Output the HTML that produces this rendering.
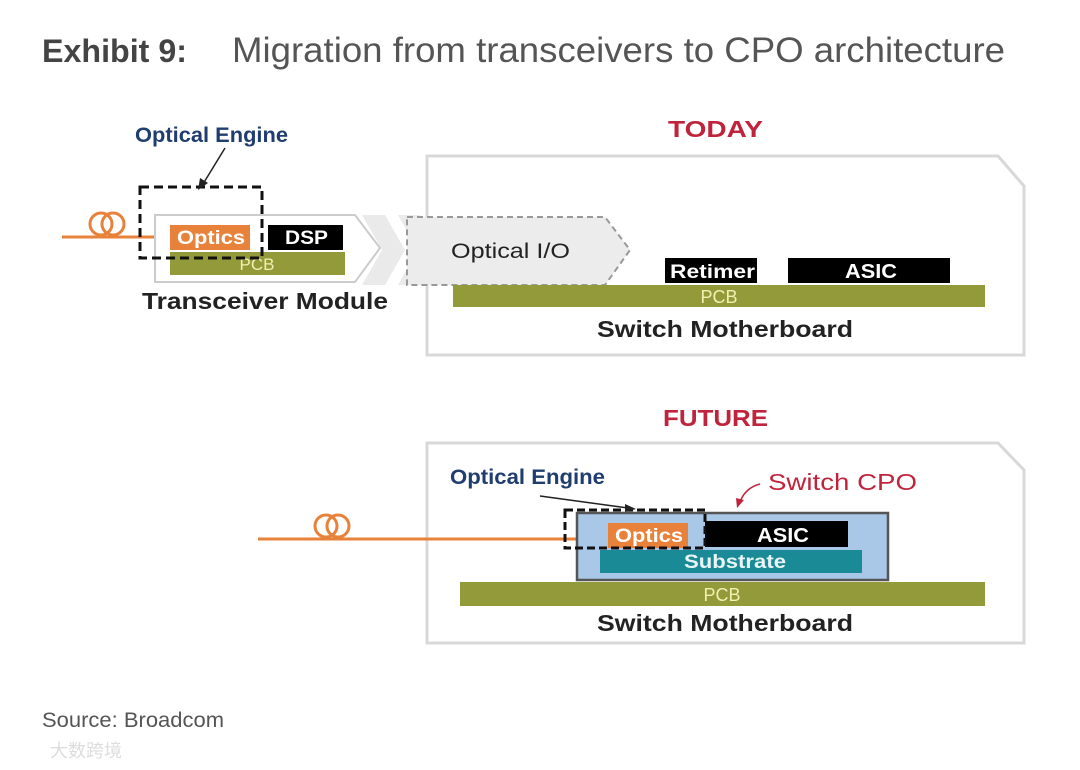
<!DOCTYPE html>
<html><head><meta charset="utf-8"><style>
html,body{margin:0;padding:0;background:#fff;}
svg{display:block;}
</style></head><body>
<svg width="1080" height="770" viewBox="0 0 1080 770" xmlns="http://www.w3.org/2000/svg" font-family="'Liberation Sans', sans-serif">
<text x="42" y="62" font-size="32" font-weight="bold" fill="#444" textLength="145" lengthAdjust="spacingAndGlyphs">Exhibit 9:</text>
<text x="232" y="62" font-size="35" fill="#555" textLength="773" lengthAdjust="spacingAndGlyphs">Migration from transceivers to CPO architecture</text>

<!-- TODAY -->
<text x="668" y="137" font-size="23" font-weight="bold" fill="#c0243c" textLength="95" lengthAdjust="spacingAndGlyphs">TODAY</text>
<polygon points="427,156 998,156 1024,186 1024,355 427,355" fill="#fff" stroke="#d8d8d8" stroke-width="3"/>
<polygon points="362,215 385,215 405,250 385,285 362,285 382,250" fill="#eaeaea"/>
<polygon points="398,215 420,215 440,250 420,285 398,285 418,250" fill="#eaeaea"/>
<polygon points="407,217 605,217 630,250 605,285 407,285" fill="#ececec" stroke="#999" stroke-width="2" stroke-dasharray="6,4"/>
<text x="451" y="258" font-size="21" fill="#222" textLength="119" lengthAdjust="spacingAndGlyphs">Optical I/O</text>
<rect x="665" y="258" width="92" height="25" fill="#000"/>
<text x="670" y="278" font-size="19" fill="#fff" font-weight="bold" textLength="85" lengthAdjust="spacingAndGlyphs">Retimer</text>
<rect x="788" y="258" width="162" height="25" fill="#000"/>
<text x="845" y="278" font-size="20" fill="#fff" font-weight="bold" textLength="52" lengthAdjust="spacingAndGlyphs">ASIC</text>
<rect x="453" y="285" width="532" height="22" fill="#939a3a"/>
<text x="719" y="303" font-size="18" fill="#f2efb0" text-anchor="middle">PCB</text>
<text x="597" y="337" font-size="23" font-weight="bold" fill="#222" textLength="256" lengthAdjust="spacingAndGlyphs">Switch Motherboard</text>

<!-- transceiver -->
<line x1="62" y1="237" x2="172" y2="237" stroke="#e8823a" stroke-width="3"/>
<circle cx="101" cy="224" r="11" fill="none" stroke="#e8823a" stroke-width="3"/>
<circle cx="113" cy="224" r="11" fill="none" stroke="#e8823a" stroke-width="3"/>
<polygon points="155,215 355,215 380,248 355,282 155,282" fill="#fff" stroke="#ccc" stroke-width="2"/>
<rect x="170" y="225" width="80" height="25" fill="#e8823a"/>
<text x="177" y="244" font-size="19" fill="#fff" font-weight="bold" textLength="68" lengthAdjust="spacingAndGlyphs">Optics</text>
<rect x="268" y="225" width="75" height="25" fill="#000"/>
<text x="285" y="244" font-size="19" fill="#fff" font-weight="bold" textLength="43" lengthAdjust="spacingAndGlyphs">DSP</text>
<rect x="170" y="252" width="175" height="23" fill="#939a3a"/>
<text x="257" y="270" font-size="17" fill="#f2efb0" text-anchor="middle">PCB</text>
<rect x="140" y="187" width="122" height="71" fill="none" stroke="#111" stroke-width="3" stroke-dasharray="9,5"/>
<text x="135" y="142" font-size="21" font-weight="bold" fill="#1f3d6e" textLength="153" lengthAdjust="spacingAndGlyphs">Optical Engine</text>
<line x1="225" y1="148" x2="203" y2="184" stroke="#222" stroke-width="1.5"/>
<polygon points="198,190 200,178 208,183" fill="#222"/>
<text x="142" y="309" font-size="23" font-weight="bold" fill="#222" textLength="246" lengthAdjust="spacingAndGlyphs">Transceiver Module</text>

<!-- FUTURE -->
<text x="663" y="426" font-size="23" font-weight="bold" fill="#c0243c" textLength="105" lengthAdjust="spacingAndGlyphs">FUTURE</text>
<polygon points="427,443 998,443 1024,470 1024,643 427,643" fill="#fff" stroke="#d8d8d8" stroke-width="3"/>
<line x1="258" y1="539" x2="610" y2="539" stroke="#e8823a" stroke-width="3"/>
<circle cx="326" cy="526" r="11" fill="none" stroke="#e8823a" stroke-width="3"/>
<circle cx="338" cy="526" r="11" fill="none" stroke="#e8823a" stroke-width="3"/>
<rect x="577" y="513" width="311" height="67" fill="#a9c7e6" stroke="#555" stroke-width="2.5"/>
<rect x="705" y="521" width="143" height="26" fill="#000"/>
<text x="757" y="542" font-size="20" fill="#fff" font-weight="bold" textLength="52" lengthAdjust="spacingAndGlyphs">ASIC</text>
<rect x="608" y="523" width="80" height="25" fill="#e8823a"/>
<text x="615" y="542" font-size="19" fill="#fff" font-weight="bold" textLength="68" lengthAdjust="spacingAndGlyphs">Optics</text>
<rect x="600" y="550" width="262" height="23" fill="#1a8a96"/>
<text x="684" y="568" font-size="19" fill="#e8f4f6" font-weight="bold" textLength="102" lengthAdjust="spacingAndGlyphs">Substrate</text>
<rect x="460" y="582" width="525" height="24" fill="#939a3a"/>
<text x="722" y="601" font-size="18" fill="#f2efb0" text-anchor="middle">PCB</text>
<text x="597" y="631" font-size="23" font-weight="bold" fill="#222" textLength="256" lengthAdjust="spacingAndGlyphs">Switch Motherboard</text>
<rect x="565" y="510" width="140" height="38" fill="none" stroke="#111" stroke-width="3" stroke-dasharray="8,4"/>
<text x="450" y="484" font-size="21" font-weight="bold" fill="#1f3d6e" textLength="155" lengthAdjust="spacingAndGlyphs">Optical Engine</text>
<line x1="540" y1="496" x2="628" y2="508" stroke="#222" stroke-width="1.5"/>
<polygon points="636,509 625,504 625,512" fill="#222"/>
<text x="768" y="490" font-size="23" fill="#c0243c" textLength="149" lengthAdjust="spacingAndGlyphs">Switch CPO</text>
<path d="M760,484 Q745,488 740,502" fill="none" stroke="#c0243c" stroke-width="1.5"/>
<polygon points="737,508 736,498 744,500" fill="#c0243c"/>

<text x="42" y="727" font-size="21" fill="#555" textLength="182" lengthAdjust="spacingAndGlyphs">Source: Broadcom</text>
<text x="50" y="757" font-size="18" fill="#ddd" font-family="'Liberation Sans','Noto Sans CJK SC',sans-serif">大数跨境</text>
</svg>
</body></html>
